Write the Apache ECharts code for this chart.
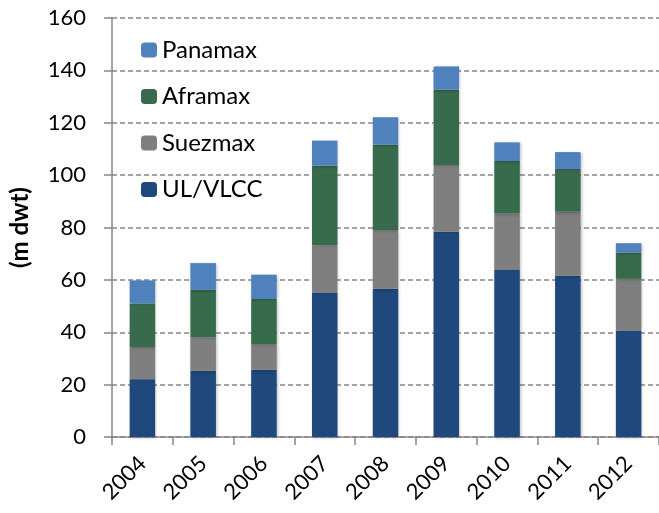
<!DOCTYPE html>
<html>
<head>
<meta charset="utf-8">
<script src="https://cdn.jsdelivr.net/npm/echarts@6/dist/echarts.min.js"></script>
<style>
  html, body { margin: 0; padding: 0; background: #fff; }
  #main { width: 659px; height: 513px; }
</style>
</head>
<body>
<div id="main"></div>
<script>
var years = ['2004', '2005', '2006', '2007', '2008', '2009', '2010', '2011', '2012'];
var ulvlcc = [22.1, 25.3, 25.7, 55.2, 56.6, 78.4, 64.0, 61.6, 40.7];
var suezmax = [12.3, 12.8, 9.8, 18.0, 22.4, 25.5, 21.3, 24.4, 19.7];
var aframax = [16.6, 18.1, 17.2, 30.4, 32.6, 28.7, 20.1, 16.3, 10.0];
var panamax = [8.8, 10.2, 9.3, 9.6, 10.5, 8.9, 7.1, 6.5, 3.6];
var yTicks = [0, 20, 40, 60, 80, 100, 120, 140, 160];

var chartDom = document.getElementById('main');
var myChart = echarts.init(chartDom);
var font = 'Lato, "Open Sans", sans-serif';

function barSeries(name, data, color) {
  return {
    name: name,
    type: 'bar',
    stack: 'total',
    barWidth: '42%',
    data: data,
    itemStyle: {
      color: color,
      shadowColor: 'rgba(0,0,0,0.25)',
      shadowBlur: 3,
      shadowOffsetX: 1,
      shadowOffsetY: 1
    }
  };
}

var option = {
  animation: false,
  textStyle: { fontFamily: font },
  legend: {
    orient: 'vertical',
    left: 136,
    top: 33,
    itemWidth: 16,
    itemHeight: 15,
    itemGap: 22.5,
    data: ['Panamax', 'Aframax', 'Suezmax', 'UL/VLCC'],
    textStyle: { fontSize: 24, lineHeight: 24, color: '#000', fontFamily: font }
  },
  grid: { left: 108, right: 0, top: 18, bottom: 76 },
  xAxis: {
    type: 'category',
    data: years,
    axisLine: { lineStyle: { color: '#868686', width: 1.5 } },
    axisTick: { show: true, length: 8, lineStyle: { color: '#868686', width: 1.5 } },
    axisLabel: { rotate: 45, fontSize: 22, color: '#000', margin: 23, fontFamily: font }
  },
  yAxis: {
    type: 'value',
    min: yTicks[0],
    max: yTicks[yTicks.length - 1],
    interval: 20,
    name: '(m dwt)',
    nameLocation: 'middle',
    nameGap: 80,
    nameTextStyle: { fontSize: 24, fontWeight: 'bold', color: '#000', fontFamily: font },
    axisLine: { show: true, lineStyle: { color: '#868686', width: 1.5 } },
    axisTick: { show: true, length: 8, lineStyle: { color: '#868686', width: 1.5 } },
    axisLabel: { fontSize: 22, color: '#000', margin: 26, fontFamily: font },
    splitLine: { lineStyle: { color: '#868686', width: 1.5, type: [5, 3] } }
  },
  series: [
    barSeries('UL/VLCC', ulvlcc, '#1F497D'),
    barSeries('Suezmax', suezmax, '#7F7F7F'),
    barSeries('Aframax', aframax, '#386B4C'),
    barSeries('Panamax', panamax, '#4F81BD')
  ]
};

option && myChart.setOption(option);
</script>
</body>
</html>
